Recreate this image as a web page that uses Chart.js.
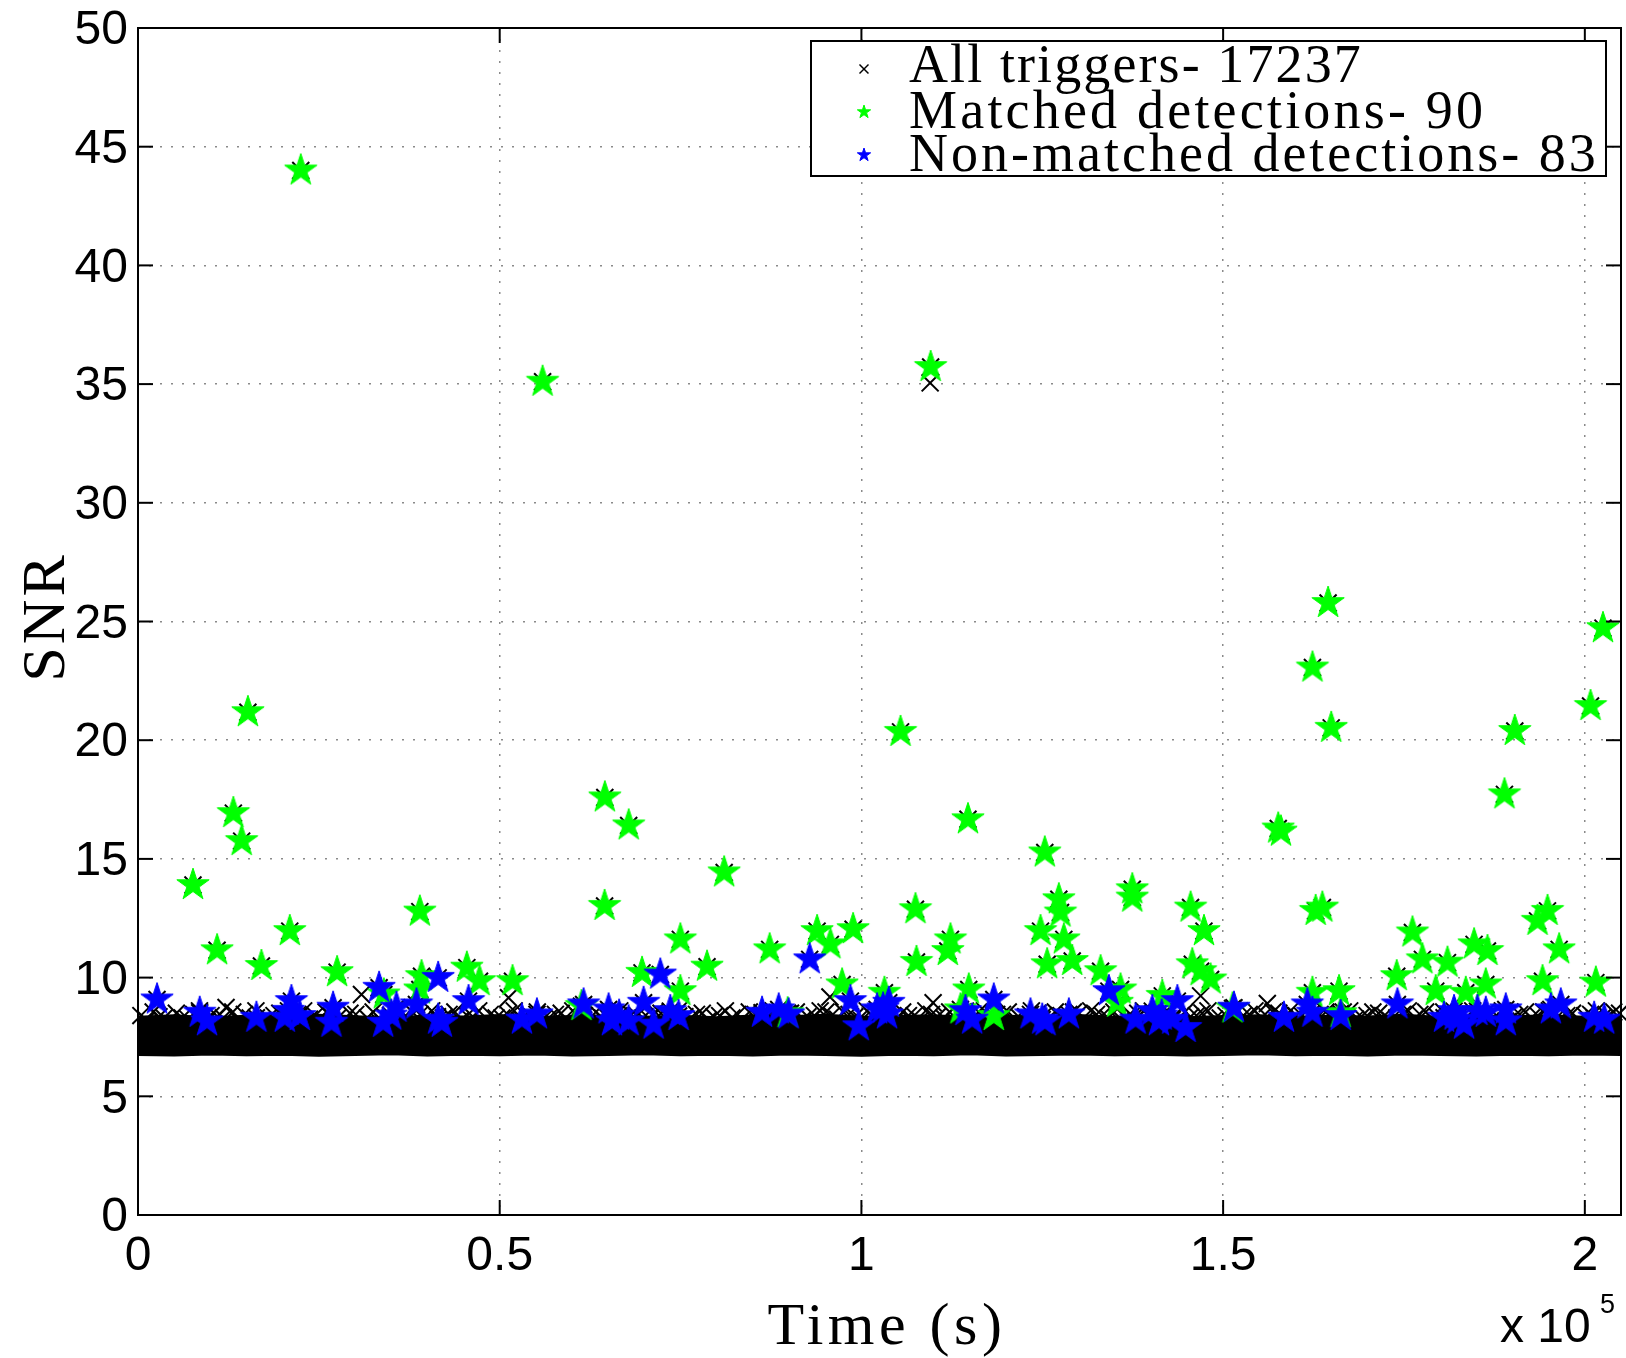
<!DOCTYPE html>
<html>
<head>
<meta charset="utf-8">
<title>SNR vs Time</title>
<script src="https://cdn.jsdelivr.net/npm/chart.js@4.4.1/dist/chart.umd.min.js"></script>
<style>
  html, body { margin: 0; padding: 0; background: #fff; }
  #chart { display: block; }
</style>
</head>
<body>
<canvas id="chart" width="1626" height="1358"></canvas>
<script>
/* ---------- data ---------- */

const xTicks = [0, 50000, 100000, 150000, 200000];
const yTicks = [0, 5, 10, 15, 20, 25, 30, 35, 40, 45, 50];

const legendLabels = [
  "All triggers- 17237",
  "Matched detections- 90",
  "Non-matched detections- 83"
];

// matched detections [time s, SNR]
const matched = [
  [7600,13.9],[10930,11.15],[13180,16.93],[14330,15.75],[15190,21.18],[17060,10.49],
  [20980,11.96],[22500,44.0],[27520,10.23],[33980,9.29],[38960,12.78],[39190,10.06],
  [38960,9.5],[45460,10.42],[47210,9.85],[51770,9.85],[55930,35.1],[64500,13.02],
  [64530,17.59],[67830,16.41],[69670,10.2],[74970,11.61],[74970,9.43],[78660,10.46],
  [81030,14.43],[87320,11.19],[93870,11.96],[95710,11.4],[98850,12.04],[97330,9.71],
  [103180,9.36],[105410,20.35],[107470,12.88],[107610,10.66],[109570,35.72],[112310,11.61],
  [111940,11.12],[114730,16.67],[114840,9.5],[113690,8.66],[118300,8.38],[124760,11.96],
  [125350,15.27],[125680,10.56],[127290,13.3],[127520,12.74],[127980,11.61],[129140,10.7],
  [133060,10.27],[135820,9.5],[135360,8.94],[137440,13.72],[137440,13.37],[141590,9.23],
  [145500,12.95],[147350,11.96],[145740,10.56],[146890,10.27],[148270,9.92],[157620,16.28],
  [158000,16.15],[162350,23.06],[164510,25.78],[164940,20.52],[162790,12.81],[163720,12.95],
  [162340,9.36],[166020,9.43],[174000,10.06],[176170,11.9],[177550,10.77],[181010,10.63],
  [179390,9.43],[184690,11.4],[186540,11.12],[183540,9.36],[186310,9.71],[188890,17.72],
  [190320,20.39],[193460,12.39],[194840,12.81],[196450,11.19],[194150,9.85],[201520,9.79],
  [200790,21.44],[202510,24.72],[61300,8.8],[151300,8.7],[89800,8.5],[166250,8.5]
];

// non-matched detections [time s, SNR]
const nonMatched = [
  [2630,9.08],[8530,8.52],[9540,8.16],[16370,8.31],[21210,9.01],[20290,8.31],
  [22360,8.38],[26970,8.73],[26740,8.1],[33330,9.57],[33890,8.1],[35730,8.73],
  [38490,8.87],[41490,9.99],[41490,8.23],[45690,9.01],[42000,8.1],[53070,8.23],
  [55140,8.45],[61600,8.87],[65050,8.66],[65510,8.16],[67820,8.16],[69890,8.94],
  [72200,10.13],[71270,8.02],[73580,8.59],[74730,8.38],[86260,8.52],[88570,8.66],
  [89940,8.45],[92850,10.77],[98480,9.01],[99630,7.95],[102170,8.66],[103780,8.94],
  [103550,8.45],[114380,8.59],[115310,8.23],[118300,9.08],[123370,8.45],[124990,8.23],
  [125450,8.16],[128670,8.45],[134210,9.43],[137900,8.23],[140210,8.59],[141120,8.16],
  [143670,9.01],[144810,7.88],[142970,8.23],[151500,8.73],[158410,8.31],[161640,8.87],
  [162340,8.52],[166250,8.38],[174090,8.87],[180540,8.31],[182390,8.23],[183310,8.02],
  [185160,8.59],[186310,8.52],[189070,8.66],[189070,8.16],[195300,8.66],[196680,8.87],
  [201290,8.31],[202680,8.23],[181920,8.59],[182000,8.4],[141500,8.4],[66500,8.4],
  [103000,8.7],[20800,8.6],[35000,8.4]
];

// triggers standing out of the dense band [time s, SNR]
const triggersEdge = [
  [1200,8.2],[2900,8.35],[4400,8.1],[6100,8.3],[7700,8.45],[9300,8.2],[11000,8.35],
  [12170,8.74],[13900,8.2],[15500,8.3],[17100,8.1],[18800,8.4],[20400,8.2],[22100,8.45],
  [23700,8.25],[25200,8.15],[26800,8.35],[28500,8.2],[30100,8.45],[30890,9.29],[31700,8.3],
  [33300,8.15],[34900,8.4],[36500,8.25],[38100,8.5],[39800,8.2],[41400,8.35],[43000,8.45],
  [44600,8.2],[46300,8.35],[47900,8.1],[49500,8.3],[51220,9.15],[51100,8.45],[52800,8.2],
  [54400,8.35],[56000,8.25],[57700,8.45],[59300,8.2],[60900,8.35],[62500,8.1],[64200,8.3],
  [65800,8.45],[67400,8.2],[69000,8.4],[70700,8.25],[72300,8.5],[73900,8.2],[75600,8.35],
  [77200,8.45],[78800,8.2],[80400,8.4],[82100,8.3],[83700,8.15],[85300,8.45],[87000,8.25],
  [88600,8.35],[90200,8.5],[91800,8.2],[93500,8.4],[95100,8.55],[95650,9.18],[96700,8.25],
  [98300,8.45],[100000,8.2],[101600,8.35],[103200,8.5],[104900,8.25],[106500,8.4],
  [108100,8.2],[109500,35.05],[109910,8.94],[109700,8.45],[111400,8.3],[113000,8.15],
  [114600,8.4],[116200,8.55],[117900,8.25],[119500,8.45],[121100,8.2],[122700,8.35],
  [124400,8.5],[126000,8.25],[127600,8.4],[129300,8.55],[130900,8.2],[132500,8.45],
  [134100,8.3],[135800,8.15],[137400,8.4],[139000,8.6],[140600,8.25],[142300,8.45],
  [143900,8.2],[145500,8.35],[146890,9.23],[147100,8.5],[148800,8.25],[150400,8.4],
  [152000,8.15],[153600,8.45],[155300,8.3],[156110,8.91],[156900,8.55],[158500,8.25],
  [160100,8.4],[161800,8.15],[163400,8.45],[165000,8.3],[166600,8.55],[168300,8.25],
  [169900,8.4],[171500,8.5],[173100,8.2],[174800,8.45],[176400,8.25],[178000,8.55],
  [179600,8.35],[181300,8.2],[182900,8.45],[184500,8.6],[186100,8.25],[187800,8.4],
  [189400,8.15],[191000,8.45],[192600,8.3],[194300,8.55],[195900,8.25],[197500,8.4],
  [199100,8.2],[200800,8.45],[202400,8.3],[204000,8.55]
];
const triggersEdge2 = [
  [400,8.4],[2100,8.55],[3600,8.3],[5300,8.5],[6900,8.25],[8500,8.6],[10100,8.4],
  [11800,8.3],[13100,8.55],[14700,8.45],[16300,8.6],[18000,8.3],[19600,8.5],[21300,8.35],
  [22900,8.6],[24500,8.4],[26000,8.55],[27600,8.3],[29300,8.5],[32500,8.55],[34100,8.35],
  [35700,8.6],[37300,8.3],[39000,8.45],[40600,8.6],[42200,8.3],[43800,8.55],[45500,8.4],
  [47100,8.6],[48700,8.45],[50300,8.3],[52000,8.6],[53600,8.4],[55200,8.55],[56800,8.3],
  [58500,8.5],[60100,8.6],[61700,8.4],[63300,8.55],[65000,8.3],[66600,8.6],[68200,8.45],
  [69800,8.3],[71500,8.55],[73100,8.4],[74700,8.6],[76400,8.3],[78000,8.5],[79600,8.35],
  [81200,8.6],[82900,8.45],[84500,8.55],[86100,8.3],[87800,8.6],[89400,8.4],[91000,8.55],
  [92600,8.35],[94300,8.6],[95900,8.4],[97500,8.55],[99100,8.35],[100800,8.6],[102400,8.4],
  [104000,8.3],[105700,8.55],[107300,8.4],[108900,8.6],[110500,8.35],[112200,8.55],
  [113800,8.4],[115400,8.3],[117000,8.6],[118700,8.45],[120300,8.55],[121900,8.3],
  [123500,8.6],[125200,8.4],[126800,8.55],[128400,8.35],[130100,8.5],[131700,8.6],
  [133300,8.4],[134900,8.55],[136600,8.3],[138200,8.5],[139800,8.4],[141400,8.6],
  [143100,8.35],[144700,8.55],[146300,8.4],[147900,8.6],[149600,8.3],[151200,8.5],
  [152800,8.4],[154400,8.6],[156100,8.35],[157700,8.5],[159300,8.6],[160900,8.4],
  [162600,8.3],[164200,8.55],[165800,8.4],[167500,8.6],[169100,8.35],[170700,8.55],
  [172300,8.4],[174000,8.3],[175600,8.6],[177200,8.45],[178800,8.3],[180500,8.55],
  [182100,8.4],[183700,8.3],[185300,8.55],[187000,8.45],[188600,8.6],[190200,8.35],
  [191800,8.55],[193500,8.4],[195100,8.6],[196700,8.3],[198300,8.5],[200000,8.4],
  [201600,8.6],[203200,8.35],[204800,8.5]
];

// envelope of the solid trigger band (17k points, too dense to list)
const bandUpper = [
  [0,8.35],[5000,8.41],[10000,8.33],[15000,8.39],[20000,8.35],[25000,8.43],[30000,8.37],
  [35000,8.32],[40000,8.4],[45000,8.36],[50000,8.42],[55000,8.34],[60000,8.38],[65000,8.41],
  [70000,8.35],[75000,8.39],[80000,8.33],[85000,8.4],[90000,8.37],[95000,8.43],[100000,8.35],
  [105000,8.38],[110000,8.41],[115000,8.34],[120000,8.39],[125000,8.36],[130000,8.42],
  [135000,8.35],[140000,8.4],[145000,8.33],[150000,8.38],[155000,8.41],[160000,8.35],
  [165000,8.39],[170000,8.36],[175000,8.43],[180000,8.34],[185000,8.4],[190000,8.37],
  [195000,8.41],[200000,8.35],[205000,8.38]
];
const bandLower = [
  [0,6.74],[5000,6.72],[10000,6.76],[15000,6.73],[20000,6.75],[25000,6.71],[30000,6.74],
  [35000,6.77],[40000,6.72],[45000,6.75],[50000,6.73],[55000,6.76],[60000,6.72],[65000,6.74],
  [70000,6.77],[75000,6.73],[80000,6.75],[85000,6.72],[90000,6.76],[95000,6.74],[100000,6.71],
  [105000,6.75],[110000,6.73],[115000,6.77],[120000,6.72],[125000,6.74],[130000,6.76],
  [135000,6.73],[140000,6.75],[145000,6.72],[150000,6.74],[155000,6.77],[160000,6.73],
  [165000,6.75],[170000,6.72],[175000,6.76],[180000,6.74],[185000,6.72],[190000,6.75],
  [195000,6.73],[200000,6.76],[205000,6.74]
];

/* ---------- helpers ---------- */

const SANS = '"Liberation Sans", Arial, sans-serif';
const SERIF = '"Liberation Serif", "Times New Roman", serif';

function pts(list){
  return list.map(([t, s]) => ({ x: t, y: s }));
}

function starSprite(color, R){
  const size = Math.ceil(R * 2 + 4);
  const c = document.createElement("canvas");
  c.width = c.height = size;
  const g = c.getContext("2d");
  g.translate(size / 2, size / 2);
  g.beginPath();
  for(let i = 0; i < 10; i++){
    const r = i % 2 ? R * 0.382 : R;
    const a = -Math.PI / 2 + i * Math.PI / 5;
    g.lineTo(r * Math.cos(a), r * Math.sin(a));
  }
  g.closePath();
  g.fillStyle = color;
  g.fill();
  g.strokeStyle = color;
  g.lineWidth = 1;
  g.stroke();
  return c;
}

const greenStar = starSprite("#00ff00", 17);
const blueStar = starSprite("#0000ff", 17);
const greenStarSmall = starSprite("#00ff00", 7);
const blueStarSmall = starSprite("#0000ff", 7);

/* ---------- frame, inner ticks, legend, titles ---------- */

const matlabFrame = {
  id: "matlabFrame",
  afterDraw(chart){
    const { ctx, chartArea: a, scales: { x, y } } = chart;
    const line = (x1, y1, x2, y2) => {
      ctx.beginPath(); ctx.moveTo(x1, y1); ctx.lineTo(x2, y2); ctx.stroke();
    };
    ctx.save();
    ctx.strokeStyle = "#000";
    ctx.lineWidth = 2;
    const tl = 15;
    xTicks.forEach(v => {
      const px = x.getPixelForValue(v);
      line(px, a.bottom, px, a.bottom - tl);
      line(px, a.top, px, a.top + tl);
    });
    yTicks.forEach(v => {
      const py = y.getPixelForValue(v);
      line(a.left, py, a.left + tl, py);
      line(a.right, py, a.right - tl, py);
    });
    ctx.strokeRect(a.left, a.top, a.right - a.left, a.bottom - a.top);

    // legend box
    const lb = { x: 811, y: 41, w: 795, h: 135 };
    ctx.fillStyle = "#fff";
    ctx.fillRect(lb.x, lb.y, lb.w, lb.h);
    ctx.strokeRect(lb.x, lb.y, lb.w, lb.h);

    const mx = 864;
    ctx.lineWidth = 1.5;
    line(mx - 4.5, 64.5, mx + 4.5, 73.5);
    line(mx - 4.5, 73.5, mx + 4.5, 64.5);
    ctx.drawImage(greenStarSmall, mx - greenStarSmall.width / 2, 112 - greenStarSmall.height / 2);
    ctx.drawImage(blueStarSmall, mx - blueStarSmall.width / 2, 155 - blueStarSmall.height / 2);

    ctx.fillStyle = "#000";
    ctx.font = `54px ${SERIF}`;
    ctx.textAlign = "left";
    ctx.textBaseline = "alphabetic";
    const spacing = ["2.1px", "3.2px", "3px"];
    [82, 128, 171].forEach((by, i) => {
      ctx.letterSpacing = spacing[i];
      ctx.fillText(legendLabels[i], 909, by);
    });

    // axis titles
    ctx.font = `60px ${SERIF}`;
    ctx.letterSpacing = "4.5px";
    ctx.textAlign = "center";
    ctx.fillText("Time (s)", 887, 1344);

    ctx.save();
    ctx.translate(64, 617);
    ctx.rotate(-Math.PI / 2);
    ctx.font = `62px ${SERIF}`;
    ctx.letterSpacing = "3px";
    ctx.fillText("SNR", 0, 0);
    ctx.restore();

    // exponent
    ctx.letterSpacing = "0px";
    ctx.textAlign = "left";
    ctx.font = `48px ${SANS}`;
    ctx.fillText("x 10", 1500, 1342);
    ctx.font = `27px ${SANS}`;
    ctx.fillText("5", 1600, 1313);
    ctx.restore();
  }
};

/* ---------- chart ---------- */

const tickFont = { family: SANS, size: 48, lineHeight: 1 };

new Chart(document.getElementById("chart"), {
  type: "scatter",
  data: {
    datasets: [
      {
        type: "line", data: pts(bandLower), borderColor: "#000", borderWidth: 2,
        pointRadius: 0, fill: false, tension: 0, order: 6
      },
      {
        type: "line", data: pts(bandUpper), borderColor: "#000", backgroundColor: "#000",
        borderWidth: 2, pointRadius: 0, fill: "-1", tension: 0, order: 5
      },
      {
        label: legendLabels[0],
        data: pts([...triggersEdge, ...triggersEdge2, ...matched, ...nonMatched]),
        pointStyle: "crossRot", pointRadius: 12, borderColor: "#000", borderWidth: 2,
        clip: false, order: 3
      },
      {
        label: legendLabels[1], data: pts(matched), pointStyle: greenStar,
        clip: false, order: 2
      },
      {
        label: legendLabels[2], data: pts(nonMatched), pointStyle: blueStar,
        clip: false, order: 1
      }
    ]
  },
  options: {
    responsive: false,
    animation: false,
    devicePixelRatio: 1,
    layout: { autoPadding: false, padding: { top: 28, right: 5, left: 0, bottom: 0 } },
    plugins: { legend: { display: false }, tooltip: { enabled: false } },
    scales: {
      x: {
        type: "linear", min: 0, max: 205000,
        afterFit: s => { s.height = 143; s.paddingLeft = 0; s.paddingRight = 0; },
        afterBuildTicks: s => { s.ticks = xTicks.map(v => ({ value: v })); },
        ticks: {
          callback: v => String(v / 1e5), color: "#000", font: tickFont,
          padding: 18, maxRotation: 0, autoSkip: false
        },
        grid: { color: "#8a8a8a", lineWidth: 1.5, drawTicks: false },
        border: { display: false, dash: [2, 9] }
      },
      y: {
        type: "linear", min: 0, max: 50,
        afterFit: s => { s.width = 138; s.paddingTop = 0; s.paddingBottom = 0; },
        afterBuildTicks: s => { s.ticks = yTicks.map(v => ({ value: v })); },
        ticks: { color: "#000", font: tickFont, padding: 10, labelOffset: 3, autoSkip: false },
        grid: { color: "#8a8a8a", lineWidth: 1.5, drawTicks: false },
        border: { display: false, dash: [2, 9] }
      }
    }
  },
  plugins: [matlabFrame]
});
</script>
</body>
</html>
